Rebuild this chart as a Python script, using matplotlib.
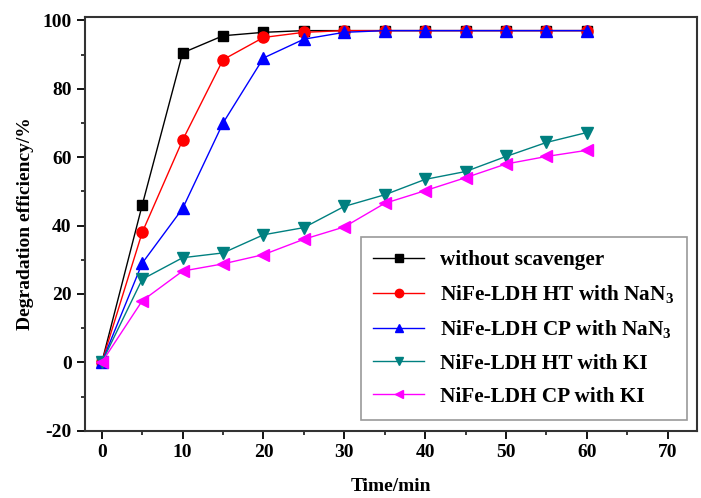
import numpy as np
import matplotlib.pyplot as plt
from matplotlib.ticker import MultipleLocator

plt.rcParams['font.family'] = ['Liberation Serif', 'DejaVu Serif']
plt.rcParams['font.weight'] = 'bold'
plt.rcParams['mathtext.fontset'] = 'custom'
plt.rcParams['mathtext.rm'] = 'Liberation Serif:bold'
plt.rcParams['mathtext.default'] = 'rm'
plt.rcParams['axes.unicode_minus'] = False

time = [0, 5, 10, 15, 20, 25, 30, 35, 40, 45, 50, 55, 60]
no_scav = [0, 46, 90.5, 95.5, 96.5, 97, 97, 97, 97, 97, 97, 97, 97]
ht_nan3 = [0, 38, 65, 88.5, 95, 96.5, 97, 97, 97, 97, 97, 97, 97]
cp_nan3 = [0, 29, 45, 70, 89, 94.5, 96.5, 97, 97, 97, 97, 97, 97]
ht_ki = [0, 24.3, 30.6, 32, 37.3, 39.4, 45.6, 49, 53.5, 55.8, 60.2, 64.3, 67.2]
cp_ki = [0, 18, 26.7, 28.8, 31.5, 36, 39.6, 46.5, 50.2, 54, 58, 60.2, 62]

labels = ['without scavenger',
          r'NiFe-LDH HT with NaN$_3$',
          r'NiFe-LDH CP with NaN$_3$',
          'NiFe-LDH HT with KI',
          'NiFe-LDH CP with KI']

fig = plt.figure(figsize=(7.01, 4.98), dpi=100)
ax = fig.add_axes([0.121, 0.135, 0.873, 0.831])

ax.plot(time, no_scav, '-s', color='black', lw=1, ms=7, label=labels[0])
ax.plot(time, ht_nan3, '-o', color='red', lw=1, ms=8, label=labels[1])
ax.plot(time, cp_nan3, '-^', color='blue', lw=1, ms=8, label=labels[2])
ax.plot(time, ht_ki, '-v', color='#008080', lw=1, ms=8, label=labels[3])
ax.plot(time, cp_ki, '-<', color='magenta', lw=1, ms=8, label=labels[4])

ax.set_xlim(-2.1, 73.6)
ax.set_ylim(-20, 101)
ax.xaxis.set_major_locator(MultipleLocator(10))
ax.xaxis.set_minor_locator(MultipleLocator(5))
ax.yaxis.set_major_locator(MultipleLocator(20))
ax.yaxis.set_minor_locator(MultipleLocator(10))
ax.tick_params(which='major', direction='out', length=6, width=1.3, labelsize=14)
ax.tick_params(which='minor', direction='out', length=3, width=1.1)
for s in ax.spines.values():
    s.set_linewidth(1.5)
    s.set_color('#333333')

ax.set_xlabel('Time/min', fontsize=14, fontweight='bold', labelpad=12)
ax.set_ylabel('Degradation efficiency/%', fontsize=14, fontweight='bold', labelpad=6)

leg = ax.legend(loc='lower right', bbox_to_anchor=(0.984, 0.027), fontsize=15.3,
                frameon=True, fancybox=False, edgecolor='#808080',
                handlelength=2.4, handletextpad=0.75, labelspacing=0.62,
                borderpad=0.6, borderaxespad=0, markerscale=0.75)
leg.get_frame().set_linewidth(1.2)

fig.savefig('out.png', dpi=100)
